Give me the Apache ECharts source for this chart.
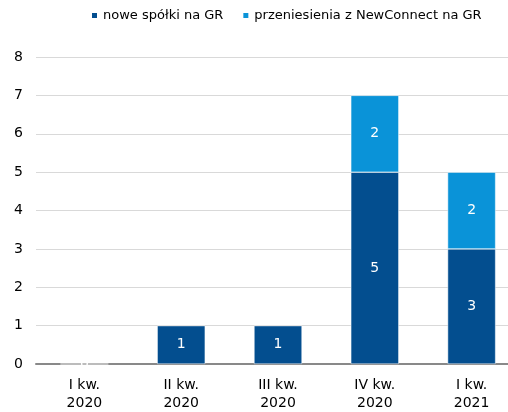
<!DOCTYPE html>
<html><head><meta charset="utf-8">
<script src="https://cdn.jsdelivr.net/npm/echarts@6/dist/echarts.min.js"></script>
<style>html,body{margin:0;padding:0;background:#fff;overflow:hidden}#c{width:522px;height:412px}</style>
</head><body><div id="c"></div>
<script>
const categories = ['I kw.\n2020', 'II kw.\n2020', 'III kw.\n2020', 'IV kw.\n2020', 'I kw.\n2021'];
const newCompanies = [0, 1, 1, 5, 3];
const transfers = [null, null, null, 2, 2];
const seriesNames = ['nowe spółki na GR', 'przeniesienia z NewConnect na GR'];
const yTicks = [0, 1, 2, 3, 4, 5, 6, 7, 8];

const font = '"DejaVu Sans", Verdana, sans-serif';
const chart = echarts.init(document.getElementById('c'), null, {renderer: 'canvas'});
chart.setOption({
  animation: false,
  textStyle: {fontFamily: font},
  legend: {
    top: 4, left: 85,
    itemWidth: 7, itemHeight: 7, itemGap: 18,
    icon: 'rect',
    textStyle: {fontFamily: font, fontSize: 13, color: '#000'},
    data: seriesNames
  },
  grid: {left: 36, top: 57, width: 484, height: 307},
  xAxis: {
    type: 'category', data: categories,
    axisLine: {lineStyle: {color: '#898989', width: 2}},
    axisTick: {show: false},
    axisLabel: {fontFamily: font, fontSize: 14, color: '#000', lineHeight: 18, margin: 12, interval: 0}
  },
  yAxis: {
    type: 'value', min: yTicks[0], max: yTicks[yTicks.length - 1], interval: 1,
    axisLine: {show: false}, axisTick: {show: false},
    splitLine: {lineStyle: {color: '#D9D9D9', width: 1}},
    axisLabel: {fontFamily: font, fontSize: 14, color: '#000', margin: 13}
  },
  series: [
    {
      name: seriesNames[0], type: 'bar', stack: 's', data: newCompanies,
      barWidth: 48,
      itemStyle: {color: '#034E8F', borderColor: '#ffffff', borderWidth: 0.5},
      label: {show: true, position: 'inside', color: '#fff', fontFamily: font, fontSize: 14}
    },
    {
      name: seriesNames[1], type: 'bar', stack: 's', data: transfers,
      barWidth: 48,
      itemStyle: {color: '#0A93D8', borderColor: '#ffffff', borderWidth: 0.5},
      label: {show: true, position: 'inside', color: '#fff', fontFamily: font, fontSize: 14}
    }
  ]
});
</script></body></html>
